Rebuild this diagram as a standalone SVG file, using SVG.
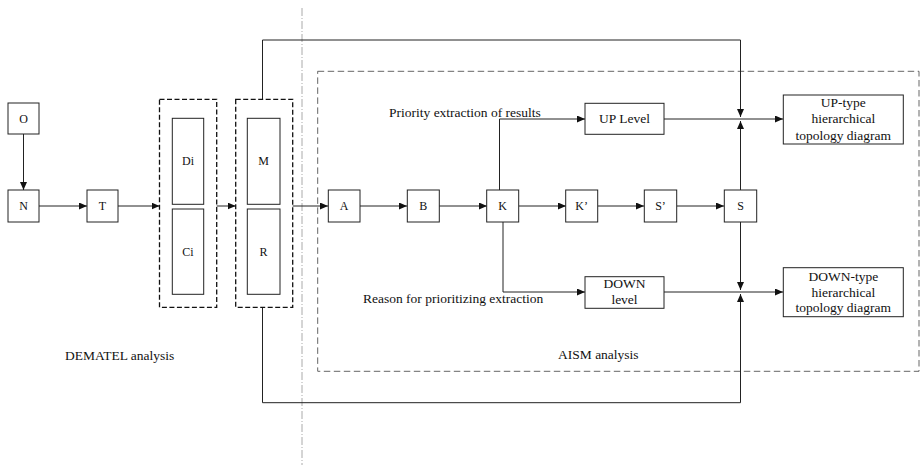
<svg xmlns="http://www.w3.org/2000/svg" width="920" height="471" viewBox="0 0 920 471">
<style>
.box{fill:#fff;stroke:#222;stroke-width:1}
.dbox{fill:none;stroke:#111;stroke-width:1.3;stroke-dasharray:5 2.5}
.ln{fill:none;stroke:#222;stroke-width:1}
.lbl{font-family:"Liberation Serif","Times New Roman","DejaVu Serif",serif;font-size:12px;fill:#111;text-anchor:middle}
.txt{font-family:"Liberation Serif","Times New Roman","DejaVu Serif",serif;font-size:13.5px;fill:#111}
.mid{text-anchor:middle}
</style>
<defs>
<marker id="ah" markerWidth="8" markerHeight="7" refX="8" refY="3.5" orient="auto" markerUnits="userSpaceOnUse">
<path d="M0,0 L8,3.5 L0,7 z" fill="#111"/>
</marker>
</defs>
<rect x="0" y="0" width="920" height="471" fill="#fff"/>
<g id="separator">
<line x1="302" y1="8" x2="302" y2="465" stroke="#aaa" stroke-width="1" stroke-dasharray="8 2 1 2"/>
</g>
<g id="aism-area">
<rect x="317.7" y="71.3" width="601.3" height="300" fill="none" stroke="#666" stroke-width="1" stroke-dasharray="6.5 3.5"/>
<text class="txt" x="558" y="359">AISM analysis</text>
</g>
<g id="dematel-label">
<text class="txt" x="65" y="360">DEMATEL analysis</text>
</g>
<g id="connectors">
<line class="ln" x1="23.5" y1="134" x2="23.5" y2="190" marker-end="url(#ah)"/>
<line class="ln" x1="39" y1="206" x2="87" y2="206" marker-end="url(#ah)"/>
<line class="ln" x1="118" y1="206" x2="159.5" y2="206" marker-end="url(#ah)"/>
<line class="ln" x1="216.7" y1="206" x2="235.7" y2="206" marker-end="url(#ah)"/>
<line class="ln" x1="292.7" y1="206" x2="328" y2="206" marker-end="url(#ah)"/>
<line class="ln" x1="360" y1="206" x2="407" y2="206" marker-end="url(#ah)"/>
<line class="ln" x1="439" y1="206" x2="487" y2="206" marker-end="url(#ah)"/>
<line class="ln" x1="519" y1="206" x2="566" y2="206" marker-end="url(#ah)"/>
<line class="ln" x1="598" y1="206" x2="644" y2="206" marker-end="url(#ah)"/>
<line class="ln" x1="677" y1="206" x2="724" y2="206" marker-end="url(#ah)"/>
<polyline class="ln" points="499.5,190 499.5,119 585,119" marker-end="url(#ah)"/>
<polyline class="ln" points="503,222 503,292 585,292" marker-end="url(#ah)"/>
<line class="ln" x1="664" y1="119" x2="783" y2="119" marker-end="url(#ah)"/>
<line class="ln" x1="664" y1="292" x2="783" y2="292" marker-end="url(#ah)"/>
<polyline class="ln" points="262.5,99.3 262.5,40 740.5,40 740.5,117" marker-end="url(#ah)"/>
<line class="ln" x1="740.5" y1="190" x2="740.5" y2="121" marker-end="url(#ah)"/>
<line class="ln" x1="740.5" y1="222" x2="740.5" y2="290" marker-end="url(#ah)"/>
<polyline class="ln" points="262.5,307.3 262.5,402.7 740.5,402.7 740.5,294" marker-end="url(#ah)"/>
<text class="txt" x="389" y="117">Priority extraction of results</text>
<text class="txt" x="363" y="303">Reason for prioritizing extraction</text>
</g>
<g id="node-O"><rect class="box" x="8" y="103" width="31" height="31"/><text class="lbl" x="23.5" y="122.5">O</text></g>
<g id="node-N"><rect class="box" x="8" y="190" width="31" height="32"/><text class="lbl" x="23.5" y="210">N</text></g>
<g id="node-T"><rect class="box" x="87" y="190" width="31" height="32"/><text class="lbl" x="102.5" y="210">T</text></g>
<g id="group-DiCi">
<rect class="dbox" x="159.5" y="99.3" width="57.2" height="208"/>
<g id="node-Di"><rect class="box" x="172.3" y="118.3" width="31.4" height="86"/><text class="lbl" x="188" y="165">Di</text></g>
<g id="node-Ci"><rect class="box" x="172.3" y="209" width="31.4" height="85.3"/><text class="lbl" x="188" y="256">Ci</text></g>
</g>
<g id="group-MR">
<rect class="dbox" x="235.7" y="99.3" width="57" height="208"/>
<g id="node-M"><rect class="box" x="247.3" y="118.3" width="32.7" height="86"/><text class="lbl" x="263.6" y="165">M</text></g>
<g id="node-R"><rect class="box" x="247.3" y="209" width="32.7" height="85.3"/><text class="lbl" x="263.6" y="256">R</text></g>
</g>
<g id="node-A"><rect class="box" x="328.3" y="190" width="31.7" height="32"/><text class="lbl" x="344" y="210">A</text></g>
<g id="node-B"><rect class="box" x="407.3" y="190" width="32" height="32"/><text class="lbl" x="423.3" y="210">B</text></g>
<g id="node-K"><rect class="box" x="486.7" y="190" width="32" height="32"/><text class="lbl" x="502.7" y="210">K</text></g>
<g id="node-K2"><rect class="box" x="565.7" y="190" width="32" height="32"/><text class="lbl" x="581.7" y="210">K’</text></g>
<g id="node-S2"><rect class="box" x="644.3" y="190" width="32.4" height="32"/><text class="lbl" x="660.5" y="210">S’</text></g>
<g id="node-S"><rect class="box" x="724.3" y="190" width="32.4" height="32"/><text class="lbl" x="740.5" y="210">S</text></g>
<g id="node-UP"><rect class="box" x="585" y="103.3" width="79" height="31"/><text class="txt mid" x="624.5" y="123">UP Level</text></g>
<g id="node-DOWN"><rect class="box" x="585" y="276.7" width="79" height="31.6"/><text class="txt mid" x="624.5" y="288">DOWN</text><text class="txt mid" x="624.5" y="304">level</text></g>
<g id="node-UPtype"><rect class="box" x="783.3" y="95" width="120" height="49"/>
<text class="txt mid" x="843.3" y="107">UP-type</text><text class="txt mid" x="843.3" y="123">hierarchical</text><text class="txt mid" x="843.3" y="139.5">topology diagram</text></g>
<g id="node-DOWNtype"><rect class="box" x="783.3" y="267.7" width="120" height="49"/>
<text class="txt mid" x="843.3" y="281">DOWN-type</text><text class="txt mid" x="843.3" y="296.5">hierarchical</text><text class="txt mid" x="843.3" y="312">topology diagram</text></g>
</svg>
